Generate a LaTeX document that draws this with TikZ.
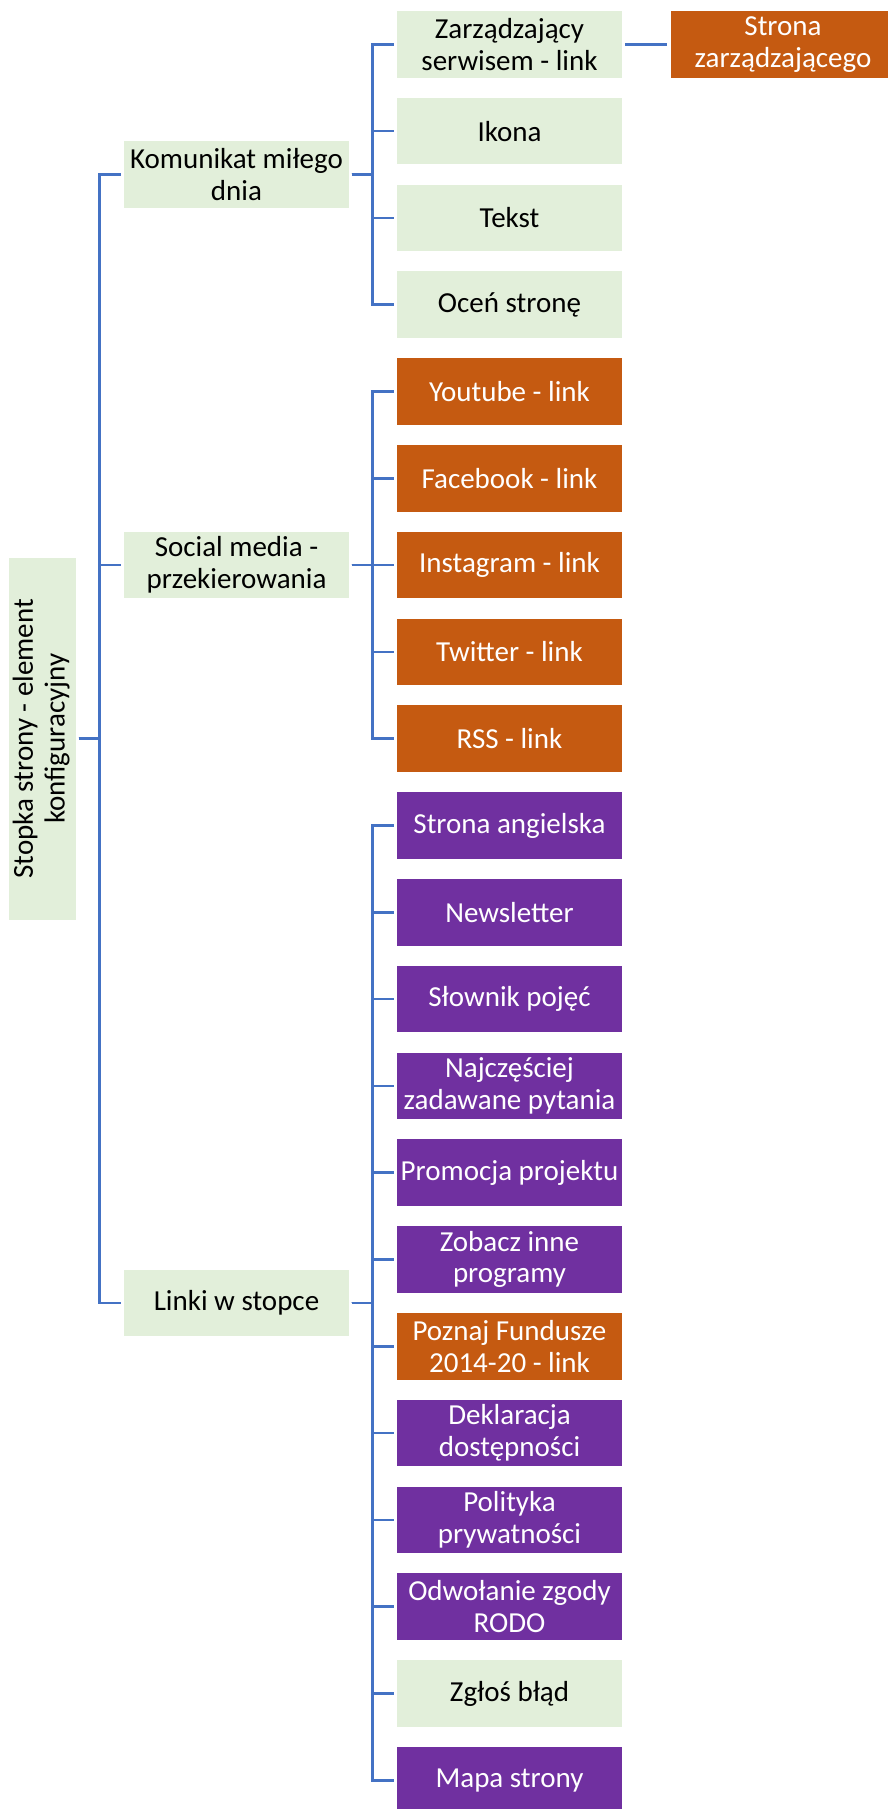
\documentclass[tikz,border=0pt]{standalone}
\usepackage{fontspec}
\setmainfont{Carlito}
\definecolor{lgreen}{HTML}{E2EFDA}
\definecolor{orng}{HTML}{C55A11}
\definecolor{purp}{HTML}{7030A0}
\definecolor{lnblue}{HTML}{4472C4}
\begin{document}
\begin{tikzpicture}[x=1pt,y=-1pt,
  box/.style={minimum width=225pt, minimum height=66.5pt, inner sep=0pt, align=center,
    font=\fontsize{29}{31.7}\selectfont},
  gbox/.style={box, fill=lgreen, text=black},
  obox/.style={box, fill=orng, text=white},
  pbox/.style={box, fill=purp, text=white},
  conn/.style={draw=lnblue, line width=2.7pt, shorten <=2.5pt, shorten >=3pt}]
\useasboundingbox (0,0) rectangle (888,1809);
\clip (0,0) rectangle (888,1809);

% root
\node[fill=lgreen, minimum width=67pt, minimum height=362.3pt, inner sep=0pt,
  font=\fontsize{29}{31.7}\selectfont] (root) at (42.5,738.8)
  {\rotatebox{90}{\begin{tabular}{@{}c@{}}Stopka strony - element\\konfiguracyjny\end{tabular}}};

% level 1
\node[gbox] (kom) at (236.5,174.5) {Komunikat miłego\\dnia};
\node[gbox] (soc) at (236.5,565.1) {Social media -\\przekierowania};
\node[gbox] (lin) at (236.5,1302.9) {Linki w stopce};

% children
\node[gbox] (c0) at (509.5,44.3) {Zarządzający\\serwisem - link};
\node[gbox] (c1) at (509.5,131.1) {Ikona};
\node[gbox] (c2) at (509.5,217.9) {Tekst};
\node[gbox] (c3) at (509.5,304.7) {Oceń stronę};
\node[obox] (c4) at (509.5,391.5) {Youtube - link};
\node[obox] (c5) at (509.5,478.3) {Facebook - link};
\node[obox] (c6) at (509.5,565.1) {Instagram - link};
\node[obox] (c7) at (509.5,651.9) {Twitter - link};
\node[obox] (c8) at (509.5,738.7) {RSS - link};
\node[pbox] (c9) at (509.5,825.5) {Strona angielska};
\node[pbox] (c10) at (509.5,912.3) {Newsletter};
\node[pbox] (c11) at (509.5,999.1) {Słownik pojęć};
\node[pbox] (c12) at (509.5,1085.9) {Najczęściej\\zadawane pytania};
\node[pbox] (c13) at (509.5,1172.7) {Promocja projektu};
\node[pbox] (c14) at (509.5,1259.5) {Zobacz inne\\programy};
\node[obox] (c15) at (509.5,1346.3) {Poznaj Fundusze\\2014-20 - link};
\node[pbox] (c16) at (509.5,1433.1) {Deklaracja\\dostępności};
\node[pbox] (c17) at (509.5,1519.9) {Polityka\\prywatności};
\node[pbox] (c18) at (509.5,1606.7) {Odwołanie zgody\\RODO};
\node[gbox] (c19) at (509.5,1693.5) {Zgłoś błąd};
\node[pbox] (c20) at (509.5,1780.3) {Mapa strony};

\node[obox] (szar) at (783,44.3) {Strona\\zarządzającego};

% connectors
\foreach \t in {kom,soc,lin}
  \draw[conn] (root.east) -- ++(23.5,0) |- (\t.west);
\foreach \t in {c0,c1,c2,c3}
  \draw[conn] (kom.east) -- ++(23.5,0) |- (\t.west);
\foreach \t in {c4,c5,c6,c7,c8}
  \draw[conn] (soc.east) -- ++(23.5,0) |- (\t.west);
\foreach \t in {c9,c10,c11,c12,c13,c14,c15,c16,c17,c18,c19,c20}
  \draw[conn] (lin.east) -- ++(23.5,0) |- (\t.west);
\draw[conn, shorten <=3pt] (c0.east) -- (szar.west);
\end{tikzpicture}
\end{document}
